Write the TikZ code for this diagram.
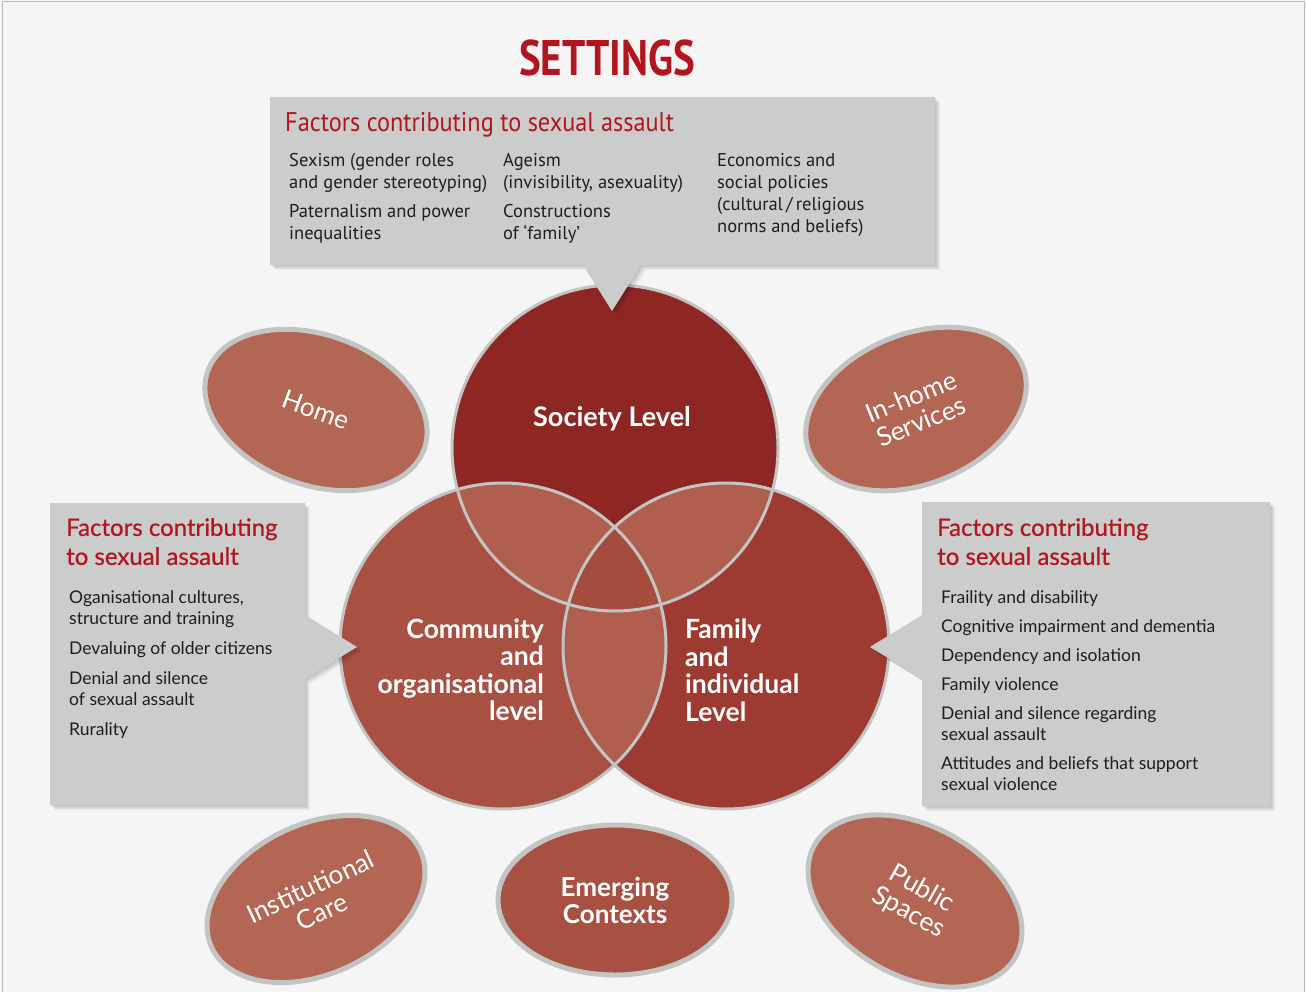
\documentclass[tikz,border=0pt]{standalone}
\usepackage{fontspec}
\setmainfont{Lato}
\newfontfamily\narrowfont{PT Sans}
\newfontfamily\tophdfont[FakeStretch=0.9]{PT Sans}
\newfontfamily\titlefont[FakeStretch=0.82]{PT Sans}
\newfontfamily\headfont[FakeBold=0.6]{Lato}
\usetikzlibrary{shapes.geometric}

\definecolor{pagebg}{HTML}{F5F5F5}
\definecolor{boxgray}{HTML}{CBCCCC}
\definecolor{ringgray}{HTML}{C3C4C4}
\definecolor{headred}{HTML}{B3151F}
\definecolor{societyred}{HTML}{8E2724}
\definecolor{communityred}{HTML}{A85142}
\definecolor{familyred}{HTML}{9D3A31}
\definecolor{pairred}{HTML}{B05E4D}
\definecolor{corered}{HTML}{A64C3E}
\definecolor{settingred}{HTML}{B46654}
\definecolor{textdark}{HTML}{1E1E1E}

\newcommand\topcallout{(270,97) -- (935,97) -- (935,265) -- (641,265) -- (612,311)
  -- (583,265) -- (270,265) -- cycle}
\newcommand\leftcallout{(50,503) -- (305,503) -- (305,615) -- (357,647) -- (305,679)
  -- (305,805) -- (50,805) -- cycle}
\newcommand\rightcallout{(922,502) -- (1270,502) -- (1270,806) -- (922,806) -- (922,679)
  -- (870,647) -- (922,615) -- cycle}

\tikzset{
  softshadow/.style={fill=black, opacity=0.045},
  ring/.style={draw=ringgray, line width=3pt},
  setting/.style={ellipse, fill=settingred, draw=ringgray, line width=5pt,
    minimum width=230pt, minimum height=150pt, text=white, align=center,
    font=\fontsize{26}{27}\selectfont},
  levellabel/.style={text=white, inner sep=0pt, font=\bfseries\fontsize{26.5}{27.5}\selectfont},
  sidehead/.style={anchor=north west, inner sep=0pt, align=left, text=headred,
    font=\headfont\fontsize{24}{29}\selectfont},
  sidelist/.style={anchor=north west, inner sep=0pt, align=left, text=textdark,
    font=\fontsize{17.5}{21}\selectfont},
  toplist/.style={anchor=north west, inner sep=0pt, align=left, text=textdark,
    font=\narrowfont\fontsize{18.5}{22}\selectfont}
}

\begin{document}
\begin{tikzpicture}[x=1pt, y=-1pt]
\useasboundingbox (0,0) rectangle (1306,992);
\fill[pagebg] (0,0) rectangle (1306,992);
\draw[gray!55, line width=1pt] (2,992) -- (2,2) -- (1304,2) -- (1304,992);

\node[font=\titlefont\bfseries\fontsize{50}{50}\selectfont, text=headred] (title) at (607,58) {SETTINGS};

% settings
\node[setting, rotate=-20] (home) at (316,410) {Home};
\node[setting, rotate=22] (inhome) at (916,409) {In-home\\Services};
\node[setting, rotate=25] (institutional) at (316,899) {Institutional\\Care};
\node[setting, fill=communityred, minimum width=234pt, minimum height=150pt,
      font=\bfseries\fontsize{26}{27}\selectfont] (emerging) at (615,900) {Emerging\\Contexts};
\node[setting, rotate=-29] (public) at (915,901) {Public\\Spaces};

% levels
\coordinate (socC) at (615,448);
\coordinate (comC) at (503,646);
\coordinate (famC) at (726,646);
\fill[societyred] (socC) circle (163);
\fill[communityred] (comC) circle (163);
\fill[familyred] (famC) circle (163);
\begin{scope}
  \clip (socC) circle (163);
  \fill[pairred] (comC) circle (163);
  \fill[pairred] (famC) circle (163);
\end{scope}
\begin{scope}
  \clip (comC) circle (163);
  \fill[pairred] (famC) circle (163);
  \clip (socC) circle (163);
  \fill[corered] (famC) circle (163);
\end{scope}
\draw[ring] (socC) circle (163);
\draw[ring] (comC) circle (163);
\draw[ring] (famC) circle (163);

\node[levellabel, font=\bfseries\fontsize{27}{27}\selectfont] (society) at (612,419) {Society Level};
\node[levellabel, anchor=east, align=right] (community) at (544,670)
  {Community\\and\\organisational\\level};
\node[levellabel, anchor=west, align=left] (family) at (685,670)
  {Family\\and\\individual\\Level};

% boxes
\foreach \s in {1,...,5}{
  \fill[softshadow, shift={(\s,\s)}] \topcallout;
  \fill[softshadow, shift={(\s,\s)}] \leftcallout;
  \fill[softshadow, shift={(\s,\s)}] \rightcallout;
}
\fill[boxgray] \topcallout;
\fill[boxgray] \leftcallout;
\fill[boxgray] \rightcallout;

\node[anchor=west, inner sep=0pt, text=headred, font=\tophdfont\fontsize{27}{27}\selectfont]
  (tophead) at (285,125) {Factors contributing to sexual assault};
\node[toplist] (topa) at (289,153) {Sexism (gender roles\\and gender stereotyping)\\[7pt]Paternalism and power\\inequalities};
\node[toplist] (topb) at (503,153) {Ageism\\(invisibility, asexuality)\\[7pt]Constructions\\of ‘family’};
\node[toplist] (topc) at (717,153) {Economics and\\social policies\\(cultural\,/\,religious\\norms and beliefs)};

\node[sidehead] (lefthead) at (66,518) {Factors contributing\\to sexual assault};
\node[sidelist] (leftlist) at (69,590) {Oganisational cultures,\\structure and training\\[9pt]Devaluing of older citizens\\[9pt]Denial and silence\\of sexual assault\\[9pt]Rurality};

\node[sidehead] (righthead) at (937,518) {Factors contributing\\to sexual assault};
\node[sidelist] (rightlist) at (941,590) {Fraility and disability\\[8pt]Cognitive impairment and dementia\\[8pt]Dependency and isolation\\[8pt]Family violence\\[8pt]Denial and silence regarding\\sexual assault\\[8pt]Attitudes and beliefs that support\\sexual violence};
\end{tikzpicture}
\end{document}
